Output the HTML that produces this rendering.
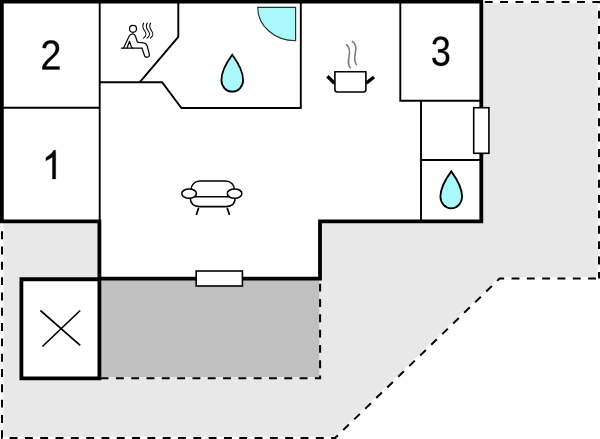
<!DOCTYPE html>
<html>
<head>
<meta charset="utf-8">
<title>Floor plan</title>
<style>
html,body{margin:0;padding:0;background:#fff;}
body{width:600px;height:439px;overflow:hidden;font-family:"Liberation Sans",sans-serif;}
svg{display:block;}
text{font-family:"Liberation Sans",sans-serif;fill:#000;}
</style>
</head>
<body>
<svg width="600" height="439" viewBox="0 0 600 439">
<rect x="0" y="0" width="600" height="439" fill="#ffffff"/>
<!-- light grey ground -->
<polygon points="3.3,3.2 597.7,3.2 597.7,277.3 498.9,277.3 334.5,436.7 3.3,436.7" fill="#e8e8e8"/>
<!-- house interior white -->
<polygon points="0,0 483,0 483,221.3 320,221.3 320,278.5 99.5,278.5 99.5,221.3 0,221.3" fill="#ffffff"/>
<!-- terrace dark grey -->
<rect x="99.5" y="278.5" width="219.8" height="98.5" fill="#c0c0c0"/>
<!-- storage box -->
<rect x="21.4" y="279.25" width="78" height="99.1" fill="#ffffff"/>

<!-- dashed outlines -->
<g fill="none" stroke="#000" stroke-width="2">
<path d="M483,1.9 H599 V278.6" stroke-dasharray="7.9 7.47" stroke-dashoffset="-1.8"/>
<path d="M599,278.6 H499.5 L335,438 H2 V230.5" stroke-dasharray="7.9 7.411" stroke-dashoffset="-3"/>
<path d="M320.1,280 V378.3 H101" stroke-dasharray="7.9 7.41" stroke-dashoffset="-3.7"/>
</g>

<!-- thin inner walls -->
<g fill="none" stroke="#000" stroke-width="1.9" stroke-linejoin="miter">
<path d="M99.7,2 V220"/>
<path d="M2,107.7 H99.7"/>
<path d="M99.7,82.2 H162.1 L181.4,108 H300.8"/>
<path d="M178.3,2 V36.9 L139.8,82.2"/>
<path d="M300.8,2 V108.9"/>
<path d="M400.3,2 V100.7 H480"/>
<path d="M421,100.7 V220"/>
<path d="M421,160 H480"/>
</g>

<!-- thick outer walls -->
<g fill="none" stroke="#000" stroke-width="3.8" stroke-linejoin="miter" stroke-linecap="butt">
<path d="M1.85,223.2 V1.52 H481.3 V221.35 H320 V278.6 H99.4 V221.3 H1.85"/>
<path d="M99.4,278.6 V378.4 H21.4 V279.25 H99.4"/>
</g>

<!-- windows -->
<g fill="#fff" stroke="#000" stroke-width="1.6">
<rect x="196.2" y="271" width="46.2" height="15"/>
<rect x="473.7" y="107.7" width="15.2" height="45.6"/>
</g>

<!-- storage cross -->
<g stroke="#000" stroke-width="1.7" fill="none">
<path d="M40.4,310.5 L80.2,345.4 M80.2,310.5 L42.4,346.5"/>
</g>

<!-- room numbers -->
<g fill="#000" stroke="#000" stroke-width="14">
<path transform="translate(41.853,179.000) scale(0.01815,-0.01950)" d="M763 0H583V1147Q518 1085 412.5 1023Q307 961 223 930V1104Q374 1175 487 1276Q600 1377 647 1472H763Z"/>
<path transform="translate(40.401,69.600) scale(0.01844,-0.02049)" d="M103 0V127Q154 244 227.5 333.5Q301 423 382.0 495.5Q463 568 542.5 630.0Q622 692 686.0 754.0Q750 816 789.5 884.0Q829 952 829 1038Q829 1154 761.0 1218.0Q693 1282 572 1282Q457 1282 382.5 1219.5Q308 1157 295 1044L111 1061Q131 1230 254.5 1330.0Q378 1430 572 1430Q785 1430 899.5 1329.5Q1014 1229 1014 1044Q1014 962 976.5 881.0Q939 800 865.0 719.0Q791 638 582 468Q467 374 399.0 298.5Q331 223 301 153H1036V0Z"/>
<path transform="translate(430.826,65.592) scale(0.01761,-0.02041)" d="M1049 389Q1049 194 925.0 87.0Q801 -20 571 -20Q357 -20 229.5 76.5Q102 173 78 362L264 379Q300 129 571 129Q707 129 784.5 196.0Q862 263 862 395Q862 510 773.5 574.5Q685 639 518 639H416V795H514Q662 795 743.5 859.5Q825 924 825 1038Q825 1151 758.5 1216.5Q692 1282 561 1282Q442 1282 368.5 1221.0Q295 1160 283 1049L102 1063Q122 1236 245.5 1333.0Q369 1430 563 1430Q775 1430 892.5 1331.5Q1010 1233 1010 1057Q1010 922 934.5 837.5Q859 753 715 723V719Q873 702 961.0 613.0Q1049 524 1049 389Z"/>
</g>

<!-- water drops -->
<g fill="#aaf8fa" stroke="#000" stroke-width="1.8" stroke-linejoin="miter">
<path id="drop1" d="M232.25,54.8 C237,61.3 243.1,71 243.1,80 A10.85,11.7 0 0 1 221.4,80 C221.4,71 227.5,61.3 232.25,54.8 Z"/>
<path id="drop2" transform="translate(219,116.6)" d="M232.25,54.8 C237,61.3 243.1,71 243.1,80 A10.85,11.7 0 0 1 221.4,80 C221.4,71 227.5,61.3 232.25,54.8 Z"/>
</g>

<!-- shower quarter -->
<path d="M257.7,7.4 H295.6 V40.7 A37.9,33.3 0 0 1 257.7,7.4 Z" fill="#aaf8fa" stroke="#1c3436" stroke-width="1.15"/>

<!-- sauna icon -->
<g fill="none" stroke="#000" stroke-width="1.2" stroke-linecap="round" stroke-linejoin="round">
<circle cx="133" cy="28.8" r="3.5"/>
<path d="M121.4,48.2 H141.9"/>
<path d="M123.7,47.8 L129.2,36 Q130.5,33.6 133,33.8 Q135,34 135.6,36.5 L137,41 Q137.4,42.4 139,42.5 L143.6,42.8 Q146.4,43.2 147.2,46 L149.4,54.5 Q149.6,57 147,57.2 Q144.8,57.2 144.2,54.8 L142,48.2"/>
<path d="M127.1,47.8 L129.5,41.2 L131.3,46.6 L132.8,48.2"/>
<g stroke-width="1.05">
<path d="M143.7,23.1 c-1.4,2.2 -1.2,4.6 0.9,7.6 c2.1,3 2.2,4.8 -1.1,7.5"/>
<path d="M147.25,23.1 c-1.4,2.2 -1.2,4.6 0.9,7.6 c2.1,3 2.2,4.8 -1.1,7.5"/>
<path d="M150.6,23.1 c-1.4,2.2 -1.2,4.6 0.9,7.6 c2.1,3 2.2,4.8 -1.1,7.5"/>
</g>
</g>

<!-- pot icon -->
<g fill="none" stroke="#000">
<path d="M334.9,71.8 H365.9 V89.6 Q365.9,92 363.5,92 H337.3 Q334.9,92 334.9,89.6 Z" stroke-width="1.6" fill="#fff"/>
<path d="M327.4,76.2 L334.5,83.2" stroke-width="3.4"/>
<path d="M366.3,83.1 L374,77" stroke-width="3.4"/>
<path d="M346.4,44.6 C349.5,47 350,52 349,57 C348,62 347.8,64.5 350.3,67.8" stroke="#787878" stroke-width="1.5" stroke-linecap="round"/>
<path d="M352.3,41.4 C356,44 356.5,48 355.3,53 C354.3,58 354.2,61.5 356.4,64.6" stroke="#787878" stroke-width="1.5" stroke-linecap="round"/>
</g>

<!-- sofa icon -->
<g fill="none" stroke="#000" stroke-width="1.55" stroke-linecap="round">
<path d="M191.1,191 V189.6 A8.6,8.6 0 0 1 199.7,181 H225.8 A8.6,8.6 0 0 1 234.4,189.6 V191"/>
<path d="M195,196.8 H229"/>
<path d="M190.3,198 C190.3,203.5 193.5,206.6 199.8,206.6 H225.7 C232,206.6 235.2,203.5 235.2,198"/>
<ellipse cx="189.1" cy="193.6" rx="7.3" ry="4.7" fill="#fff"/>
<ellipse cx="234.6" cy="193.6" rx="7.3" ry="4.7" fill="#fff"/>
<path d="M198.5,208.4 L196.5,214.2" stroke-width="1.7"/>
<path d="M227.3,208.4 L229.3,214.2" stroke-width="1.7"/>
</g>
</svg>
</body>
</html>
